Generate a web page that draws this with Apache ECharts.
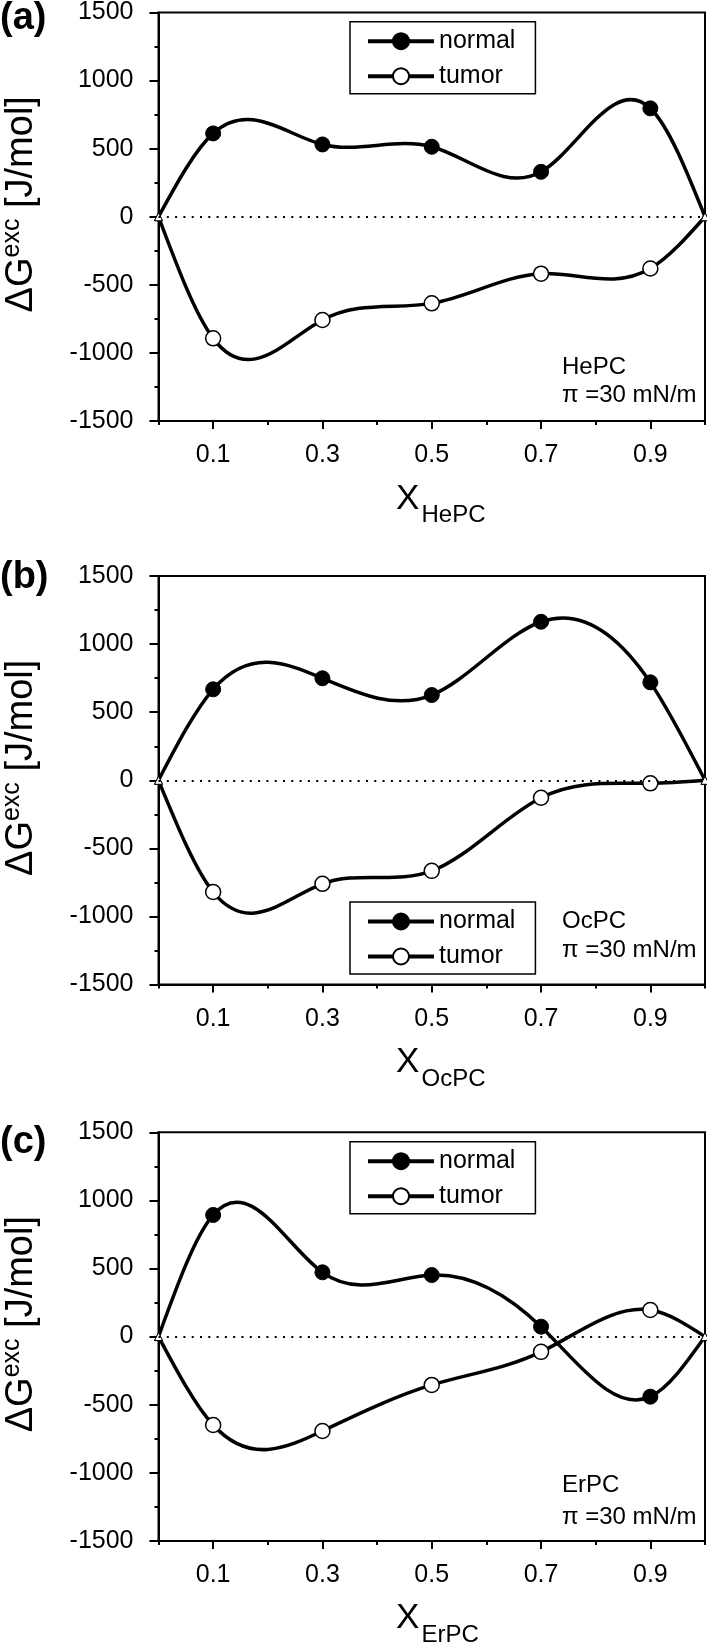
<!DOCTYPE html>
<html>
<head>
<meta charset="utf-8">
<script src="https://cdn.jsdelivr.net/npm/echarts@6/dist/echarts.min.js"></script>
<style>
html,body{margin:0;padding:0;background:#fff;}
#chart{width:707px;height:1644px;}
</style>
</head>
<body>
<div id="chart"></div>
<script>
// ---------------- data ----------------
const xValues = [0, 0.1, 0.3, 0.5, 0.7, 0.9, 1.0];
const normalHePC = [0, 612, 531, 514, 330, 796, 0];
const tumorHePC  = [0, -893, -758, -636, -418, -380, 0];
const normalOcPC = [0, 668, 749, 626, 1164, 719, 0];
const tumorOcPC  = [0, -820, -760, -665, -128, -22, 0];
const normalErPC = [0, 893, 472, 452, 73, -441, 0];
const tumorErPC  = [0, -649, -693, -355, -112, 195, 0];
const seriesNames = ['normal', 'tumor'];
const panelLetters = ['(a)', '(b)', '(c)'];
const lipidNames = ['HePC', 'OcPC', 'ErPC'];
const pressureLabel = 'π =30 mN/m';
const xLabelValues = [0.1, 0.3, 0.5, 0.7, 0.9];
const xLabelTexts = ['0.1', '0.3', '0.5', '0.7', '0.9'];
const yTickValues = [-1500, -1000, -500, 0, 500, 1000, 1500];

const panels = [
  { normal: normalHePC, tumor: tumorHePC },
  { normal: normalOcPC, tumor: tumorOcPC },
  { normal: normalErPC, tumor: tumorErPC }
];

// ---------------- layout ----------------
const FONT = 'Liberation Sans, Arial, sans-serif';
const gridTops = [12.4, 576, 1132.3];
const gridLeft = 158.5, gridWidth = 546.5, gridHeight = 408.6;
const legendTops = [21.7, 902, 1141.7];
const letterYs = [19, 578, 1143];
const annotOffsets = [[355, 383], [345, 374], [353, 385]];

// natural cubic spline slopes (curve drawing through data points)
function splineSlopes(xs, ys) {
  const n = xs.length, h = [], s = [];
  for (let i = 0; i < n - 1; i++) { h.push(xs[i + 1] - xs[i]); s.push((ys[i + 1] - ys[i]) / h[i]); }
  const m = n - 2, a = [], b = [], c = [], r = [];
  for (let k = 0; k < m; k++) {
    const i = k + 1;
    a.push(h[i - 1]); b.push(2 * (h[i - 1] + h[i])); c.push(h[i]); r.push(6 * (s[i] - s[i - 1]));
  }
  for (let k = 1; k < m; k++) { const w = a[k] / b[k - 1]; b[k] -= w * c[k - 1]; r[k] -= w * r[k - 1]; }
  const Mi = new Array(m);
  Mi[m - 1] = r[m - 1] / b[m - 1];
  for (let k = m - 2; k >= 0; k--) Mi[k] = (r[k] - c[k] * Mi[k + 1]) / b[k];
  const M = [0].concat(Mi, [0]);
  const d = [];
  for (let i = 0; i < n - 1; i++) d.push(s[i] - h[i] * (2 * M[i] + M[i + 1]) / 6);
  d.push(s[n - 2] + h[n - 2] * (M[n - 2] + 2 * M[n - 1]) / 6);
  return d;
}

function curveSeries(name, gi, ys) {
  const d = splineSlopes(xValues, ys);
  return {
    type: 'custom', name: name + ' curve', xAxisIndex: gi * 2, yAxisIndex: gi, z: 2, silent: true,
    data: xValues.slice(0, -1).map((x, i) => [x, ys[i]]),
    encode: { x: 0, y: 1 },
    renderItem: function (params, api) {
      const i = params.dataIndex;
      const x0 = xValues[i], x1 = xValues[i + 1], y0 = ys[i], y1 = ys[i + 1], h = x1 - x0;
      const p0 = api.coord([x0, y0]), p1 = api.coord([x1, y1]);
      const c0 = api.coord([x0 + h / 3, y0 + d[i] * h / 3]);
      const c1 = api.coord([x1 - h / 3, y1 - d[i + 1] * h / 3]);
      return {
        type: 'bezierCurve',
        shape: { x1: p0[0], y1: p0[1], x2: p1[0], y2: p1[1], cpx1: c0[0], cpy1: c0[1], cpx2: c1[0], cpy2: c1[1] },
        style: { stroke: '#000', lineWidth: 3.5, fill: 'none', lineCap: 'round' }
      };
    }
  };
}

function markerSeries(name, gi, ys, filled, withZero) {
  const s = {
    type: 'line', name: name, xAxisIndex: gi * 2, yAxisIndex: gi, z: 3, silent: true,
    symbol: 'circle', symbolSize: 15, showAllSymbol: true,
    lineStyle: { opacity: 0, width: 3, color: '#000' },
    itemStyle: filled ? { color: '#000', borderColor: '#000', borderWidth: 1 }
                      : { color: '#fff', borderColor: '#000', borderWidth: 1.5 },
    emphasis: { disabled: true },
    data: xValues.map((x, i) => {
      const end = (i === 0 || i === xValues.length - 1);
      return end ? { value: [x, ys[i]], symbol: 'triangle', symbolSize: 8,
                     itemStyle: { color: '#fff', borderColor: '#000', borderWidth: 1 } }
                 : [x, ys[i]];
    })
  };
  if (withZero) {
    s.markLine = {
      silent: true, symbol: ['none', 'none'], label: { show: false },
      lineStyle: { color: '#000', type: [2, 6.3], width: 2 },
      data: [{ yAxis: 0 }], animation: false
    };
  }
  return s;
}

const grids = [], xAxes = [], yAxes = [], series = [], legends = [], graphics = [];

panels.forEach((p, gi) => {
  const top = gridTops[gi];
  grids.push({ left: gridLeft, top: top, width: gridWidth, height: gridHeight,
               show: true, borderColor: '#000', borderWidth: 2, backgroundColor: 'transparent' });
  xAxes.push({
    type: 'value', gridIndex: gi, min: 0, max: 1, interval: 0.1,
    axisLine: { show: true, onZero: false, lineStyle: { color: '#000', width: 2 } },
    axisTick: { show: true, length: 4, lineStyle: { color: '#000', width: 2 } },
    axisLabel: {
      show: true, customValues: xLabelValues, margin: 22, fontSize: 25, color: '#000', fontFamily: FONT,
      formatter: function (v) {
        const k = xLabelValues.findIndex(t => Math.abs(t - v) < 1e-6);
        return k >= 0 ? xLabelTexts[k] : '';
      }
    },
    splitLine: { show: false }
  });
  xAxes.push({
    type: 'value', gridIndex: gi, min: 0, max: 1, interval: 0.1, position: 'bottom',
    axisLine: { show: false, onZero: false },
    axisTick: { show: true, customValues: xLabelValues, length: 8, lineStyle: { color: '#000', width: 2 } },
    axisLabel: { show: false },
    splitLine: { show: false }
  });
  yAxes.push({
    type: 'value', gridIndex: gi, min: yTickValues[0], max: yTickValues[yTickValues.length - 1], interval: 500,
    axisLine: { show: true, onZero: false, lineStyle: { color: '#000', width: 2 } },
    axisTick: { show: true, length: 9, lineStyle: { color: '#000', width: 2 } },
    minorTick: { show: true, splitNumber: 2, length: 4, lineStyle: { color: '#000', width: 2 } },
    axisLabel: { margin: 25, fontSize: 25, color: '#000', fontFamily: FONT, formatter: v => String(v) },
    splitLine: { show: false }
  });

  series.push(curveSeries('normal', gi, p.normal));
  series.push(curveSeries('tumor', gi, p.tumor));
  series.push(markerSeries('normal', gi, p.normal, true, true));
  series.push(markerSeries('tumor', gi, p.tumor, false, false));

  legends.push({
    show: true, data: seriesNames, orient: 'vertical', left: 350, top: legendTops[gi],
    selectedMode: false, itemWidth: 66, itemHeight: 20, itemGap: 10,
    padding: [7, 20, 5, 16], borderColor: '#000', borderWidth: 1.5, backgroundColor: '#fff',
    textStyle: { fontSize: 25, color: '#000', fontFamily: FONT },
    lineStyle: { color: '#000', width: 4, opacity: 1 }
  });

  // panel letter
  graphics.push({ type: 'text', x: 0, y: letterYs[gi], silent: true,
    style: { text: panelLetters[gi], fontSize: 38, fontWeight: 'bold', fontFamily: FONT, fill: '#000',
             align: 'left', verticalAlign: 'middle' } });
  // y-axis title (rotated)
  graphics.push({ type: 'text', x: 22, y: top + 300, rotation: Math.PI / 2, silent: true,
    style: { text: '{m|ΔG}{s|exc}{m| [J/mol]}', fill: '#000', fontFamily: FONT, fontSize: 38,
             align: 'left', verticalAlign: 'middle',
             rich: { m: { fontSize: 38, lineHeight: 44, fontFamily: FONT, fill: '#000' },
                     s: { fontSize: 25, lineHeight: 25, fontFamily: FONT, fill: '#000', verticalAlign: 'top' } } } });
  // x-axis title with subscript
  graphics.push({ type: 'text', x: 396, y: top + 486.5, silent: true,
    style: { text: 'X', fontSize: 35, fontFamily: FONT, fill: '#000', align: 'left', verticalAlign: 'middle' } });
  graphics.push({ type: 'text', x: 421.5, y: top + 503, silent: true,
    style: { text: lipidNames[gi], fontSize: 24, fontFamily: FONT, fill: '#000', align: 'left', verticalAlign: 'middle' } });
  // annotation
  graphics.push({ type: 'text', x: 562, y: top + annotOffsets[gi][0], silent: true,
    style: { text: lipidNames[gi], fontSize: 24, fontFamily: FONT, fill: '#000', align: 'left', verticalAlign: 'middle' } });
  graphics.push({ type: 'text', x: 562, y: top + annotOffsets[gi][1], silent: true,
    style: { text: pressureLabel, fontSize: 24, fontFamily: FONT, fill: '#000', align: 'left', verticalAlign: 'middle' } });
});

const chart = echarts.init(document.getElementById('chart'), null, { renderer: 'canvas' });
chart.setOption({
  animation: false,
  backgroundColor: '#fff',
  textStyle: { fontFamily: FONT },
  grid: grids,
  xAxis: xAxes,
  yAxis: yAxes,
  legend: legends,
  series: series,
  graphic: graphics
});
</script>
</body>
</html>
